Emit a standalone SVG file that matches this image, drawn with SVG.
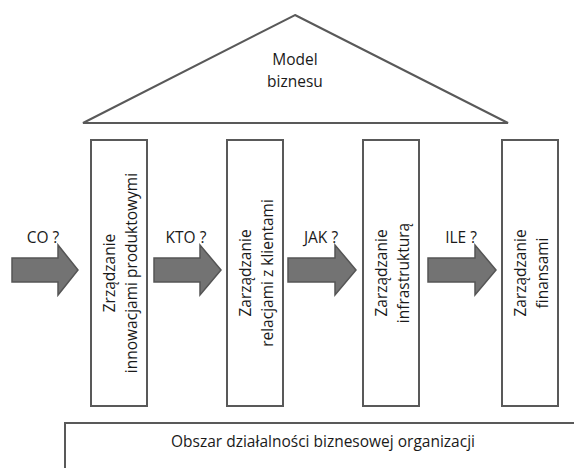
<svg xmlns="http://www.w3.org/2000/svg" width="574" height="468" viewBox="0 0 574 468">
<style>
.ln{fill:#fff;stroke:#595959;stroke-width:2}
.ar{fill:#737373;stroke:#555;stroke-width:1.5}
text{font-family:"Open Sans","Liberation Sans",Arial,sans-serif;font-size:15.5px;fill:#1a1a1a}
.c{text-anchor:middle}
</style>
<rect width="574" height="468" fill="#fff"/>
<g id="roof">
<polygon class="ln" points="295,15 508,123 83,123"/>
<text class="c" x="295" y="65">Model</text>
<text class="c" x="295" y="87">biznesu</text>
</g>
<g id="base">
<path class="ln" d="M65,470 V423 H576"/>
<text class="c" x="323" y="447">Obszar działalności biznesowej organizacji</text>
</g>
<g id="box1">
<rect class="ln" x="91" y="140" width="56" height="266"/>
<text class="c" transform="translate(120,273) rotate(-90)"><tspan x="0" y="-5">Zrządzanie</tspan><tspan x="0" y="17">innowacjami produktowymi</tspan></text>
</g>
<g id="box2">
<rect class="ln" x="227" y="140" width="56" height="266"/>
<text class="c" transform="translate(256,273) rotate(-90)"><tspan x="0" y="-5">Zarządzanie</tspan><tspan x="0" y="17">relacjami z klientami</tspan></text>
</g>
<g id="box3">
<rect class="ln" x="363" y="140" width="56" height="266"/>
<text class="c" transform="translate(392,273) rotate(-90)"><tspan x="0" y="-5">Zarządzanie</tspan><tspan x="0" y="17">infrastrukturą</tspan></text>
</g>
<g id="box4">
<rect class="ln" x="502" y="140" width="56" height="266"/>
<text class="c" transform="translate(531,273) rotate(-90)"><tspan x="0" y="-5">Zarządzanie</tspan><tspan x="0" y="17">finansami</tspan></text>
</g>
<g id="connectors">
<polygon class="ar" points="12,258 58,258 58,245 78,270 58,295 58,282 12,282"/>
<text class="c" x="43" y="243">CO ?</text>
<polygon class="ar" points="154,258 200,258 200,245 221,270 200,295 200,282 154,282"/>
<text class="c" x="186" y="243">KTO ?</text>
<polygon class="ar" points="288,258 335,258 335,245 356,270 335,295 335,282 288,282"/>
<text class="c" x="321" y="243">JAK ?</text>
<polygon class="ar" points="428,258 475,258 475,245 496,270 475,295 475,282 428,282"/>
<text class="c" x="461" y="243">ILE ?</text>
</g>
</svg>
